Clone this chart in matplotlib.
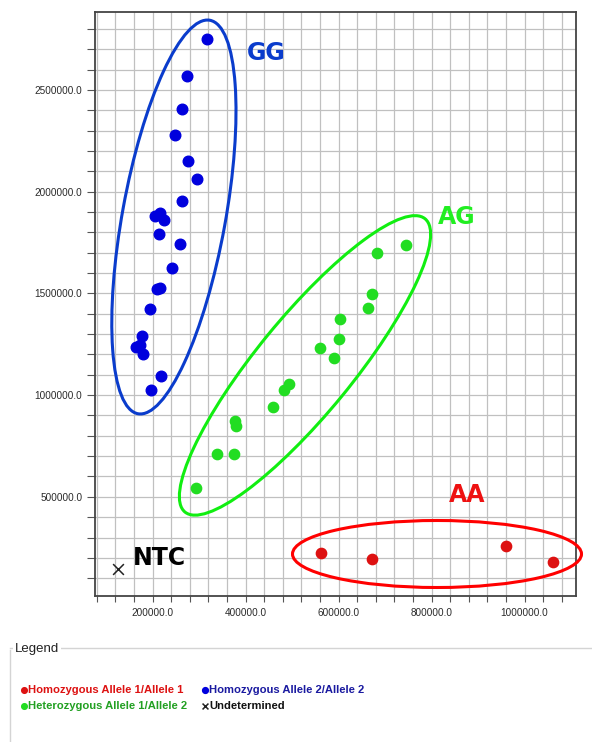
import matplotlib.pyplot as plt
from matplotlib.patches import Ellipse
from matplotlib.lines import Line2D
from matplotlib.transforms import IdentityTransform
from matplotlib.ticker import MultipleLocator, FormatStrFormatter

# allele 1 (x) vs allele 2 (y) signal, one list per genotype call
gg_x = [316600, 274200, 264100, 248400, 277000, 295000, 264100, 205400, 216800, 225400, 214000,
        259800, 241300, 210300, 216800, 194600, 176800, 164500, 173100, 178900, 218300, 197400]
gg_y = [2750700, 2568800, 2405100, 2277000, 2152400, 2062400, 1955800, 1880500, 1896800, 1860900, 1790600,
        1741400, 1626400, 1521700, 1528100, 1423400, 1290600, 1238000, 1246400, 1203600, 1095500, 1023700]
ag_x = [745100, 682800, 672700, 663400, 603200, 601100, 559600, 591000,
        494200, 482800, 459800, 377400, 378900, 338700, 374600, 292900]
ag_y = [1736500, 1698700, 1495600, 1429700, 1374200, 1275900, 1231600, 1182500,
        1053200, 1023700, 940100, 874200, 849700, 710500, 710500, 541900]
aa_x = [561700, 671400, 960200, 1060600]
aa_y = [222400, 195800, 258600, 179600]
ntc_x = [125200]
ntc_y = [145200]

legend_labels = ["Homozygous Allele 1/Allele 1", "Heterozygous Allele 1/Allele 2",
                 "Homozygous Allele 2/Allele 2", "Undetermined"]

W, H = 592, 742
fig = plt.figure(figsize=(W / 100, H / 100), dpi=100)
ax = fig.add_axes([95 / W, 1 - 595.7 / H, (576 - 95) / W, (595.7 - 11.7) / H])

ax.set_xlim(76350, 1110700)
ax.set_ylim(13900, 2884900)

ax.xaxis.set_major_locator(MultipleLocator(200000))
ax.xaxis.set_minor_locator(MultipleLocator(40000))
ax.yaxis.set_major_locator(MultipleLocator(500000))
ax.yaxis.set_minor_locator(MultipleLocator(100000))
ax.xaxis.set_major_formatter(FormatStrFormatter("%.1f"))
ax.yaxis.set_major_formatter(FormatStrFormatter("%.1f"))
ax.grid(True, which="both", color="#c0c0c0", linewidth=0.9)
ax.set_axisbelow(True)
ax.tick_params(axis="x", which="both", length=4, width=0.8, color="#555555", pad=5,
               labelsize=7.2, labelcolor="#2a2a2a")
ax.tick_params(axis="y", which="both", length=6, width=0.8, color="#555555", pad=3,
               labelsize=7.2, labelcolor="#2a2a2a")
for lab in ax.get_xticklabels() + ax.get_yticklabels():
    lab.set_fontfamily("Liberation Sans")
for s in ax.spines.values():
    s.set_color("#444444")
    s.set_linewidth(1.3)

aa = ax.scatter(aa_x, aa_y, s=55, color="#dd1111", zorder=3)
ag = ax.scatter(ag_x, ag_y, s=55, color="#22dd22", zorder=3)
gg = ax.scatter(gg_x, gg_y, s=58, color="#0000dd", zorder=3)
ntc = ax.scatter(ntc_x, ntc_y, s=60, marker="x", color="#222222", linewidths=1.1, zorder=3)

# hand-drawn cluster rings, placed in image pixels
rings = [((173.9, 217), 400, 103, 79.65, "#0a3ccc"),
         ((305, 365.4), 379, 96, 50.7, "#11ee11"),
         ((437, 554), 289, 67, 0, "#ff0000")]
for (cx, cy), w, h, ang, col in rings:
    e = Ellipse((cx, H - cy), w, h, angle=ang, transform=IdentityTransform(),
                fill=False, edgecolor=col, linewidth=2.2, clip_on=False, zorder=4)
    fig.patches.append(e)

ax.text(444100, 2681800, "GG", color="#0a3ccc", fontsize=17, fontweight="bold", ha="center", va="center")
ax.text(854800, 1875600, "AG", color="#22ee22", fontsize=17, fontweight="bold", ha="center", va="center")
ax.text(876100, 509000, "AA", color="#ee1111", fontsize=17, fontweight="bold", ha="center", va="center")
ax.text(157500, 199800, "NTC", color="black", fontsize=17, fontweight="bold", ha="left", va="center")

# legend panel
fig.add_artist(Line2D([10 / W, 10 / W], [0, 1 - 650 / H], transform=fig.transFigure,
                      color="#d4d4d4", linewidth=1))
fig.add_artist(Line2D([10 / W, 1], [1 - 648 / H, 1 - 648 / H], transform=fig.transFigure,
                      color="#d4d4d4", linewidth=1))
fig.text(15 / W, 1 - 649 / H, "Legend", fontsize=9.5, family="Liberation Sans", color="#222222",
         va="center", ha="left", bbox=dict(facecolor="white", edgecolor="none", pad=1.5))

fig.legend([aa, ag, gg, ntc], legend_labels, loc="upper left",
           bbox_to_anchor=(21 / W, 1 - 685 / H), ncol=2, frameon=False,
           markerscale=0.55, handlelength=0.5, handletextpad=0.15, columnspacing=1.3,
           labelspacing=0.5, borderaxespad=0, borderpad=0,
           prop={"family": "Liberation Sans", "weight": "bold", "size": 8.1},
           labelcolor=["#dd1111", "#22a022", "#1a1aa0", "#111111"])

fig.savefig("out.png", dpi=100)
